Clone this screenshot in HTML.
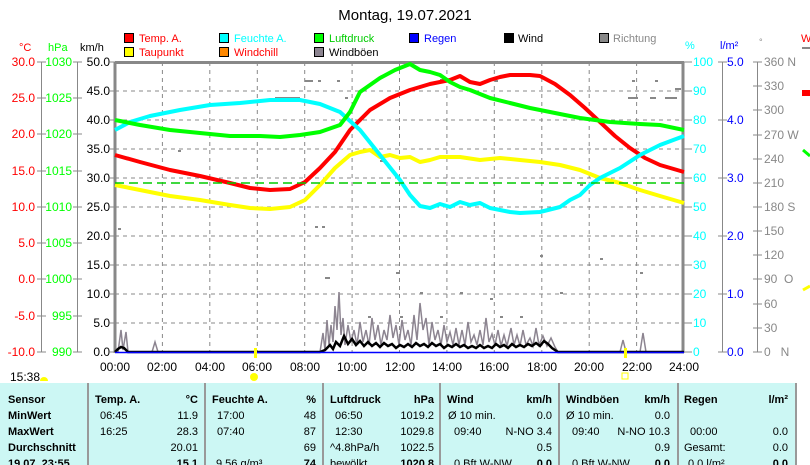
<!DOCTYPE html>
<html><head><meta charset="utf-8"><style>
body{margin:0;background:#fff;width:810px;height:465px;overflow:hidden;font-family:"Liberation Sans",sans-serif}
svg{position:absolute;left:0;top:0}
.t{position:absolute;left:0;top:383px;width:795px;height:82px;background:#ccf7f4}
</style></head><body>
<svg width="810" height="465" font-family="Liberation Sans, sans-serif" font-size="12">
<text x="405" y="20" font-size="15" text-anchor="middle">Montag, 19.07.2021</text>
<g font-size="11">
<rect x="124.5" y="33.5" width="9" height="9" fill="#f00" stroke="#000"/><text x="139" y="42" fill="#f00">Temp. A.</text>
<rect x="124.5" y="47.5" width="9" height="9" fill="#ff0" stroke="#000"/><text x="139" y="56" fill="#f00">Taupunkt</text>
<rect x="219.5" y="33.5" width="9" height="9" fill="#0ff" stroke="#000"/><text x="234" y="42" fill="#0ff">Feuchte A.</text>
<rect x="219.5" y="47.5" width="9" height="9" fill="#f80" stroke="#000"/><text x="234" y="56" fill="#f00">Windchill</text>
<rect x="314.5" y="33.5" width="9" height="9" fill="#0f0" stroke="#000"/><text x="329" y="42" fill="#0c0">Luftdruck</text>
<rect x="314.5" y="47.5" width="9" height="9" fill="#8c8490" stroke="#000"/><text x="329" y="56">Windböen</text>
<rect x="409.5" y="33.5" width="9" height="9" fill="#00f" stroke="#000"/><text x="424" y="42" fill="#00f">Regen</text>
<rect x="504.5" y="33.5" width="9" height="9" fill="#000" stroke="#000"/><text x="518" y="42">Wind</text>
<rect x="599.5" y="33.5" width="9" height="9" fill="#888" stroke="#000"/><text x="613" y="42" fill="#888">Richtung</text>
</g>
<text x="19" y="51" fill="#f00" font-size="11">°C</text>
<text x="48" y="51" fill="#0f0" font-size="11">hPa</text>
<text x="80" y="51" font-size="11">km/h</text>
<text x="685" y="49" fill="#0ff" font-size="11">%</text>
<text x="720" y="49" fill="#00f" font-size="11">l/m²</text>
<text x="759" y="45" fill="#888" font-size="9">°</text>
<text x="801" y="42" fill="#f00" font-size="11">W</text>
<g stroke="#888" stroke-dasharray="4,4" stroke-width="1">
<path d="M115 91H684M115 120H684M115 149H684M115 178H684M115 207H684M115 236H684M115 265H684M115 294H684M115 323H684"/>
<path d="M162.4 62V352M209.8 62V352M257.3 62V352M304.7 62V352M352.1 62V352M399.5 62V352M446.9 62V352M494.3 62V352M541.8 62V352M589.2 62V352M636.6 62V352"/>
</g>
<g stroke="#888" stroke-width="3" fill="none"><path d="M115 62.5H684M115 62V353M683 62V353"/></g>
<g stroke="#888"><path d="M41.5 62V352M77.5 62V352"/></g>
<g font-size="12" text-anchor="end">
<g fill="#f00"><text x="35" y="66">30.0</text><text x="35" y="102">25.0</text><text x="35" y="138">20.0</text><text x="35" y="175">15.0</text><text x="35" y="211">10.0</text><text x="35" y="247">5.0</text><text x="35" y="283">0.0</text><text x="35" y="320">-5.0</text><text x="35" y="356">-10.0</text></g>
<g fill="#0f0"><text x="72" y="66">1030</text><text x="72" y="102">1025</text><text x="72" y="138">1020</text><text x="72" y="175">1015</text><text x="72" y="211">1010</text><text x="72" y="247">1005</text><text x="72" y="283">1000</text><text x="72" y="320">995</text><text x="72" y="356">990</text></g>
<g><text x="110" y="66">50.0</text><text x="110" y="95">45.0</text><text x="110" y="124">40.0</text><text x="110" y="153">35.0</text><text x="110" y="182">30.0</text><text x="110" y="211">25.0</text><text x="110" y="240">20.0</text><text x="110" y="269">15.0</text><text x="110" y="298">10.0</text><text x="110" y="327">5.0</text><text x="110" y="356">0.0</text></g>
</g>
<g stroke="#888"><path d="M37 62H46M37 98H46M37 134H46M37 171H46M37 207H46M37 243H46M37 279H46M37 316H46M37 352H46M73 62H82M73 98H82M73 134H82M73 171H82M73 207H82M73 243H82M73 279H82M73 316H82M73 352H82M110 62H115M110 91H115M110 120H115M110 149H115M110 178H115M110 207H115M110 236H115M110 265H115M110 294H115M110 323H115M110 352H115"/></g>
<g text-anchor="middle" font-size="12"><text x="115" y="371">00:00</text><text x="162" y="371">02:00</text><text x="210" y="371">04:00</text><text x="257" y="371">06:00</text><text x="305" y="371">08:00</text><text x="352" y="371">10:00</text><text x="400" y="371">12:00</text><text x="447" y="371">14:00</text><text x="494" y="371">16:00</text><text x="542" y="371">18:00</text><text x="589" y="371">20:00</text><text x="637" y="371">22:00</text><text x="684" y="371">24:00</text></g>
<g stroke="#888"><path d="M722.5 62V352M757.5 62V352M684 62H692M684 91H692M684 120H692M684 149H692M684 178H692M684 207H692M684 236H692M684 265H692M684 294H692M684 323H692M684 352H692M718 62H727M718 120H727M718 178H727M718 236H727M718 294H727M718 352H727M753 62H762M753 86H762M753 110H762M753 135H762M753 159H762M753 183H762M753 207H762M753 231H762M753 255H762M753 279H762M753 304H762M753 328H762M753 352H762"/></g>
<g fill="#0ff" font-size="12"><text x="693" y="66">100</text><text x="693" y="95">90</text><text x="693" y="124">80</text><text x="693" y="153">70</text><text x="693" y="182">60</text><text x="693" y="211">50</text><text x="693" y="240">40</text><text x="693" y="269">30</text><text x="693" y="298">20</text><text x="693" y="327">10</text><text x="693" y="356">0</text></g>
<g fill="#00f" font-size="12"><text x="727" y="66">5.0</text><text x="727" y="124">4.0</text><text x="727" y="182">3.0</text><text x="727" y="240">2.0</text><text x="727" y="298">1.0</text><text x="727" y="356">0.0</text></g>
<g fill="#888" font-size="12"><text x="764" y="66">360 N</text><text x="764" y="90">330</text><text x="764" y="114">300</text><text x="764" y="139">270 W</text><text x="764" y="163">240</text><text x="764" y="187">210</text><text x="764" y="211">180 S</text><text x="764" y="235">150</text><text x="764" y="259">120</text><text x="764" y="283">90&#160;&#160;O</text><text x="764" y="308">60</text><text x="764" y="332">30</text><text x="764" y="356">0&#160;&#160;&#160;N</text></g>
<g fill="#888">
<rect x="275" y="97" width="25" height="2"/><rect x="305" y="80" width="8" height="2"/><rect x="318" y="80" width="3" height="2"/><rect x="337" y="80" width="3" height="2"/>
<rect x="345" y="97" width="3" height="2"/><rect x="390" y="97" width="3" height="2"/><rect x="440" y="79" width="3" height="2"/>
<rect x="468" y="80" width="3" height="2"/><rect x="495" y="80" width="3" height="2"/><rect x="632" y="80" width="3" height="2"/><rect x="655" y="80" width="3" height="2"/>
<rect x="628" y="97" width="10" height="2"/><rect x="650" y="97" width="6" height="2"/><rect x="665" y="97" width="12" height="2"/><rect x="675" y="88" width="6" height="2"/>
<rect x="315" y="226" width="3" height="2"/><rect x="322" y="226" width="3" height="2"/><rect x="325" y="277" width="5" height="2"/>
<rect x="380" y="160" width="3" height="2"/><rect x="396" y="272" width="3" height="2"/><rect x="420" y="292" width="3" height="2"/><rect x="460" y="292" width="3" height="2"/>
<rect x="490" y="298" width="3" height="2"/><rect x="540" y="255" width="3" height="2"/><rect x="560" y="292" width="3" height="2"/><rect x="600" y="258" width="3" height="2"/>
<rect x="640" y="272" width="3" height="2"/><rect x="580" y="184" width="3" height="2"/><rect x="118" y="228" width="3" height="2"/><rect x="178" y="150" width="3" height="2"/>
<rect x="368" y="316" width="3" height="2"/><rect x="400" y="316" width="3" height="2"/><rect x="440" y="316" width="3" height="2"/><rect x="500" y="316" width="3" height="2"/><rect x="520" y="316" width="3" height="2"/>
</g>
<g fill="none" stroke-linejoin="round" stroke-width="4">
<polyline stroke="#f00" points="115,155 140,162 170,170 200,176 230,183 250,188 270,190 290,189 305,182 320,168 335,152 350,130 370,110 390,98 410,90 430,84 450,80 460,76 470,82 480,84 490,80 500,77 510,75 530,75 540,76 555,84 570,95 585,108 600,122 615,136 630,148 645,158 660,165 684,172"/>
<polyline stroke="#ff0" points="115,185 140,190 170,196 200,200 230,205 250,208 270,209 290,207 305,200 320,185 335,168 350,155 360,152 370,150 380,157 390,155 400,158 410,157 420,162 430,160 440,157 460,157 480,160 500,158 520,160 540,162 560,165 580,170 600,178 620,183 640,190 660,196 684,203"/>
<polyline stroke="#0ff" points="115,130 130,122 150,116 180,110 210,105 240,103 270,100 300,100 320,104 340,112 360,130 380,155 400,180 410,195 420,206 430,208 440,204 450,207 460,202 470,205 480,203 490,208 500,210 510,212 520,213 540,212 560,207 570,200 580,195 590,185 600,178 620,168 640,155 660,145 684,136"/>
<polyline stroke="#0f0" points="115,120 140,125 170,130 200,133 230,136 260,136 280,137 300,135 320,132 340,125 350,112 360,92 370,85 380,78 395,70 410,64 420,70 430,72 440,75 450,82 460,87 470,90 490,98 510,103 530,108 550,112 580,118 610,122 640,124 660,125 684,130"/>
</g>
<path d="M115 183H684" stroke="#0c0" stroke-width="1.5" stroke-dasharray="9,5"/>
<polyline fill="none" stroke="#8c8490" stroke-width="1.5" points="118,352 121,330 123,350 126,332 128,352 152,352 155,342 158,352 320,352 323,333 325,350 327,320 329,345 331,325 333,342 335,306 337,330 339,292 341,335 343,318 345,345 348,325 351,342 354,330 357,345 360,322 363,342 366,330 369,345 372,318 375,340 378,325 381,345 384,330 387,340 390,315 393,338 396,325 399,345 402,320 405,340 408,330 411,345 414,315 417,340 420,303 423,330 426,318 429,345 432,322 435,340 438,330 441,345 444,325 447,342 450,332 453,345 456,328 459,345 462,330 465,345 468,322 471,342 474,335 477,345 480,330 483,345 486,318 489,342 492,334 495,345 498,330 501,346 504,335 507,346 511,328 514,345 517,335 520,346 523,330 526,345 530,338 533,346 536,328 539,345 543,336 547,346 551,338 555,347 558,352 620,352 623,340 626,352 640,352 643,333 646,352 684,352"/>
<polyline fill="none" stroke="#000" stroke-width="2.5" points="115,352 118,349 121,347 124,348 128,352 320,352 325,350 330,345 333,349 336,342 340,346 344,336 348,344 352,339 356,345 360,341 364,346 368,342 372,346 376,343 380,347 384,343 388,346 392,344 396,348 400,345 404,347 408,344 412,347 416,343 420,346 424,344 428,347 432,343 436,346 440,344 444,348 448,345 452,347 456,344 460,347 464,345 468,348 472,346 476,348 480,345 484,348 488,346 492,348 496,344 500,347 504,345 508,348 512,344 516,347 520,345 524,347 528,344 532,346 536,343 540,346 544,341 548,344 552,348 558,352 684,352"/>
<path d="M115 352.5H684" stroke="#00f" stroke-width="1.5"/>
<rect x="254" y="348" width="3" height="10" fill="#ff0"/>
<rect x="624" y="348" width="3" height="10" fill="#ff0"/>
<circle cx="254" cy="377" r="4" fill="#ff0"/>
<rect x="622" y="373" width="6" height="6" fill="none" stroke="#ff0"/>
<text x="10" y="381" font-size="12">15:38</text>
<path d="M40 381a4 4 0 0 1 8 0z" fill="#ff0"/>
<path d="M802 90h8v6h-8z" fill="#f00"/>
<path d="M803 150l7 6" stroke="#0f0" stroke-width="3"/>
<path d="M803 290l7 -4" stroke="#ff0" stroke-width="3"/>
<path d="M802 48h8" stroke="#888" stroke-width="2"/>
</svg>
<div class="t"></div>
<svg width="810" height="465" font-family="Liberation Sans, sans-serif" font-size="11">
<g stroke="#999" stroke-width="2"><path d="M88 383V465M205 383V465M323 383V465M440 383V465M559 383V465M678 383V465M796 383V465"/></g>
<g font-weight="bold"><text x="8" y="403">Sensor</text><text x="8" y="419">MinWert</text><text x="8" y="435">MaxWert</text><text x="8" y="451">Durchschnitt</text><text x="8" y="467">19.07. 23:55</text>
<text x="95" y="403">Temp. A.</text><text x="198" y="403" text-anchor="end">°C</text>
<text x="212" y="403">Feuchte A.</text><text x="316" y="403" text-anchor="end">%</text>
<text x="330" y="403">Luftdruck</text><text x="434" y="403" text-anchor="end">hPa</text>
<text x="447" y="403">Wind</text><text x="552" y="403" text-anchor="end">km/h</text>
<text x="566" y="403">Windböen</text><text x="670" y="403" text-anchor="end">km/h</text>
<text x="684" y="403">Regen</text><text x="788" y="403" text-anchor="end">l/m²</text>
<text x="198" y="467" text-anchor="end">15.1</text><text x="316" y="467" text-anchor="end">74</text><text x="434" y="467" text-anchor="end">1020.8</text><text x="552" y="467" text-anchor="end">0.0</text><text x="670" y="467" text-anchor="end">0.0</text><text x="788" y="467" text-anchor="end">0.0</text></g>
<g text-anchor="end"><text x="198" y="419">11.9</text><text x="198" y="435">28.3</text><text x="198" y="451">20.01</text>
<text x="316" y="419">48</text><text x="316" y="435">87</text><text x="316" y="451">69</text>
<text x="434" y="419">1019.2</text><text x="434" y="435">1029.8</text><text x="434" y="451">1022.5</text>
<text x="552" y="419">0.0</text><text x="552" y="435">N-NO 3.4</text><text x="552" y="451">0.5</text>
<text x="670" y="419">0.0</text><text x="670" y="435">N-NO 10.3</text><text x="670" y="451">0.9</text>
<text x="788" y="435">0.0</text><text x="788" y="451">0.0</text></g>
<text x="100" y="419">06:45</text><text x="100" y="435">16:25</text>
<text x="217" y="419">17:00</text><text x="217" y="435">07:40</text><text x="216" y="467">9.56 g/m³</text>
<text x="335" y="419">06:50</text><text x="335" y="435">12:30</text><text x="330" y="451">^4.8hPa/h</text><text x="330" y="467">bewölkt</text>
<text x="448" y="419">Ø 10 min.</text><text x="454" y="435">09:40</text><text x="454" y="467">0 Bft W-NW</text>
<text x="566" y="419">Ø 10 min.</text><text x="572" y="435">09:40</text><text x="572" y="467">0 Bft W-NW</text>
<text x="690" y="435">00:00</text><text x="684" y="451">Gesamt:</text><text x="688" y="467">0.0 l/m²</text>
</svg>
</body></html>
